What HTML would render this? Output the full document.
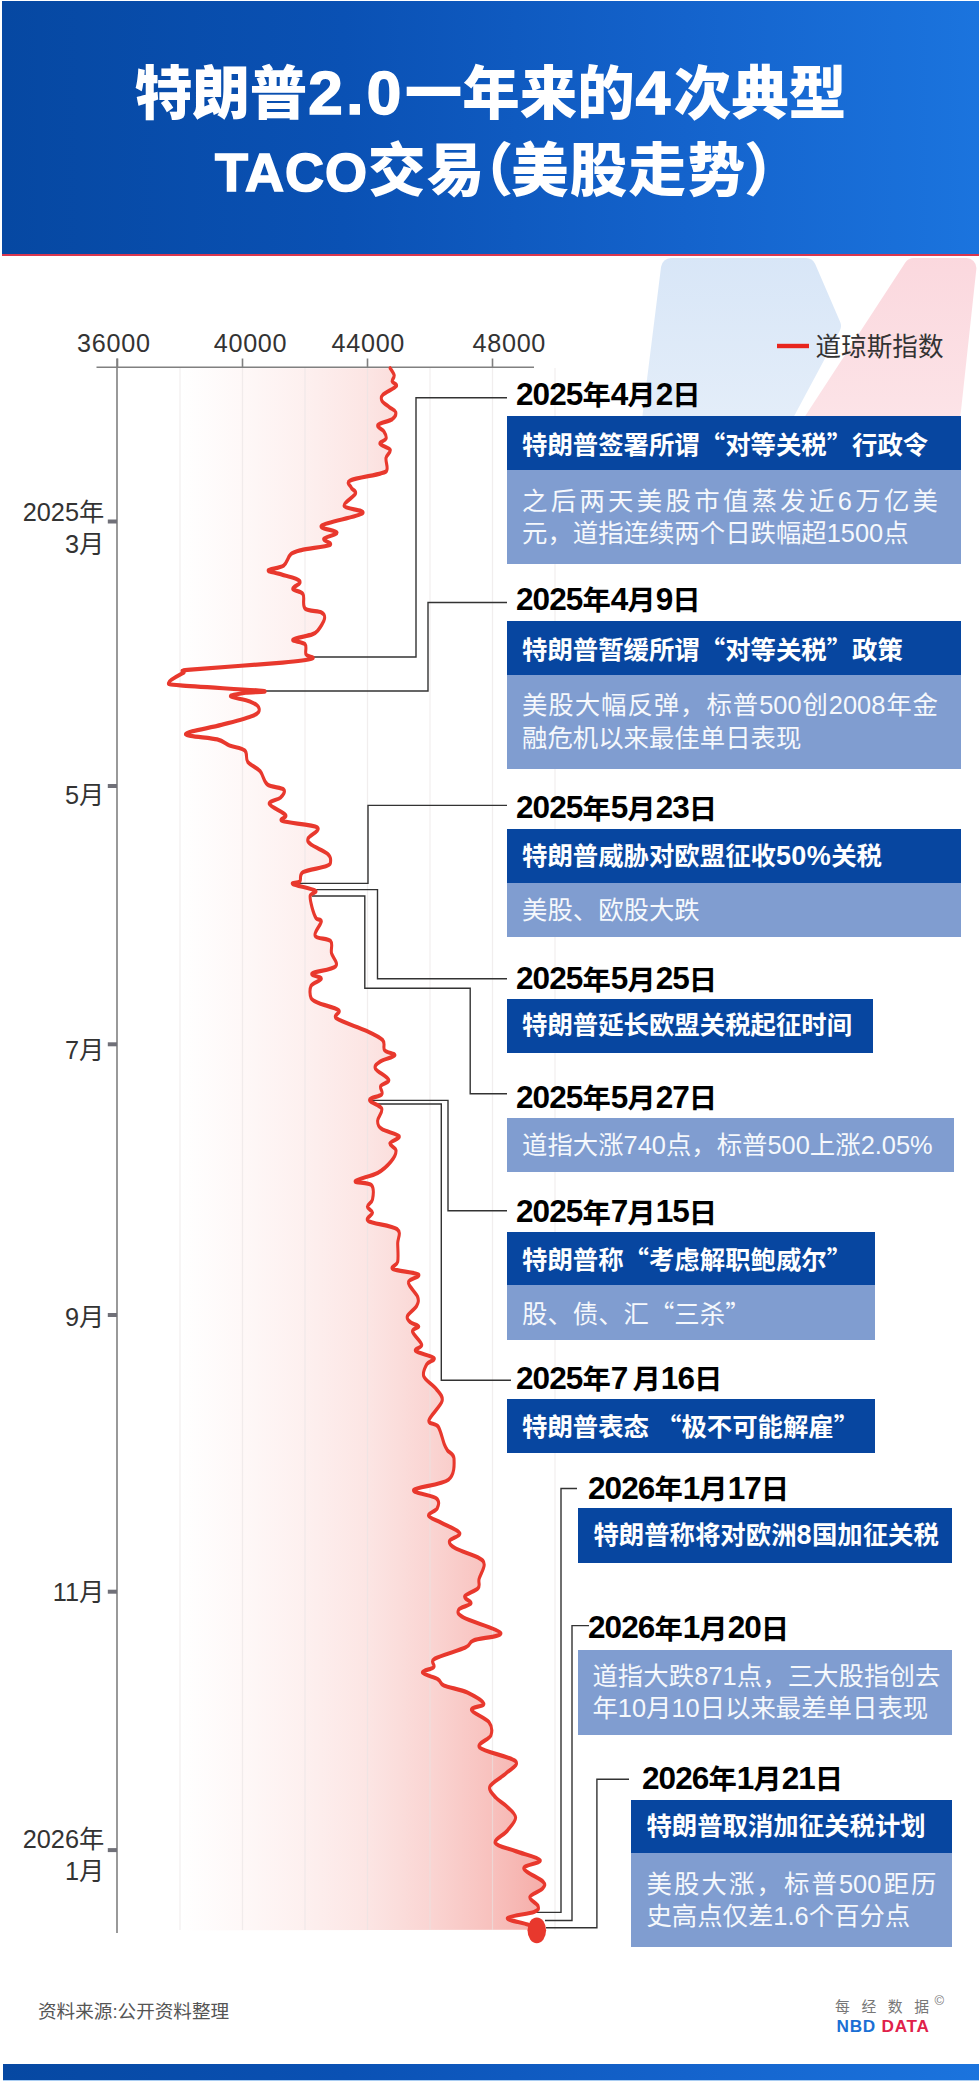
<!DOCTYPE html>
<html lang="zh-CN"><head><meta charset="utf-8"><title>特朗普2.0一年来的4次典型TACO交易</title>
<style>
html,body{margin:0;padding:0;background:#fff}
body{width:979px;height:2081px;position:relative;overflow:hidden;font-family:"Liberation Sans","Noto Sans CJK SC",sans-serif;color:#333}
.q{font-family:"Noto Sans CJK SC",sans-serif}
#hd{position:absolute;left:2px;top:1px;width:977px;height:253px;background:linear-gradient(90deg,#0648a2 0%,#0a51b4 35%,#1463cc 70%,#1b74de 100%);border-bottom:2px solid #d9374f}
#hd .t{position:absolute;left:0;width:100%;text-align:center;color:#fff;font-weight:900;font-size:57.5px;line-height:76px;white-space:nowrap}
#hd .l1{font-size:62px;letter-spacing:3.4px;line-height:0;-webkit-text-stroke:1.6px #fff;padding-left:1px}
#hd .l2{font-size:54px;letter-spacing:1px;line-height:0;-webkit-text-stroke:1.6px #fff;padding-left:1px}
#hd .pl{margin-left:-0.52em;margin-right:-0.06em}
#hd .pr{margin-right:-0.62em;margin-left:-0.04em}
#ft{position:absolute;left:3px;top:2064px;width:976px;height:16px;background:linear-gradient(90deg,#0648a2 0%,#0a51b4 35%,#1463cc 70%,#1b74de 100%)}
svg{position:absolute;left:0;top:0}
.xl{position:absolute;top:327px;width:100px;text-align:center;font-size:25.2px;letter-spacing:0.7px;line-height:32px;color:#333}
.yl{position:absolute;left:0;width:104.3px;text-align:right;font-size:25.3px;line-height:31.8px;color:#333}
.dt{position:absolute;font-weight:700;font-size:27.5px;line-height:36px;color:#000;white-space:nowrap;transform:scaleX(1.03);transform-origin:0 50%;margin-left:-2px}
.dt .n{font-size:30.6px;letter-spacing:-0.9px;line-height:0;position:relative;top:-0.3px}
.dt i{font-style:normal;font-size:18px}
.dk{position:absolute;background:#0746a0;color:#fff;font-weight:700;font-size:25.4px;white-space:nowrap}
.dk .n{font-size:27px;letter-spacing:0.4px;line-height:0}
.lt{position:absolute;background:#809dd0;color:#f5f8fc;font-size:25.4px}
.ln{height:32.3px;line-height:32.3px;white-space:nowrap}
.ln.j{text-align:justify;text-align-last:justify;white-space:normal}
#lg{position:absolute;left:815.5px;top:329.3px;font-size:25.6px;line-height:36px;color:#333;white-space:nowrap}
#src{position:absolute;left:38px;top:2000px;font-size:18.6px;line-height:24px;color:#555;white-space:nowrap}
#nbd1{position:absolute;left:835px;top:1997.2px;font-size:14.8px;line-height:20px;color:#777;letter-spacing:11.6px;white-space:nowrap}
#nbd2{position:absolute;left:836.5px;top:2014.6px;font-size:17.2px;letter-spacing:0.75px;line-height:22px;font-weight:700;white-space:nowrap}
#cp{position:absolute;left:934.5px;top:1993.2px;font-size:13px;line-height:16px;color:#777}
</style></head><body>
<svg width="979" height="2081" viewBox="0 0 979 2081">
<defs>
<linearGradient id="ga" gradientUnits="userSpaceOnUse" x1="180" y1="0" x2="550" y2="0"><stop offset="0" stop-color="#e8372c" stop-opacity="0"/><stop offset="0.165" stop-color="#e8372c" stop-opacity="0.035"/><stop offset="0.335" stop-color="#e8372c" stop-opacity="0.075"/><stop offset="0.508" stop-color="#e8372c" stop-opacity="0.13"/><stop offset="0.673" stop-color="#e8372c" stop-opacity="0.21"/><stop offset="0.843" stop-color="#e8372c" stop-opacity="0.31"/><stop offset="1" stop-color="#e8372c" stop-opacity="0.42"/></linearGradient>
<linearGradient id="gb" gradientUnits="userSpaceOnUse" x1="0" y1="256" x2="0" y2="520"><stop offset="0" stop-color="#d8e6f7"/><stop offset="0.6" stop-color="#e3edf9"/><stop offset="1" stop-color="#ffffff"/></linearGradient>
<linearGradient id="gp" gradientUnits="userSpaceOnUse" x1="0" y1="256" x2="0" y2="520"><stop offset="0" stop-color="#fbd8de"/><stop offset="0.6" stop-color="#fce3e7"/><stop offset="1" stop-color="#ffffff"/></linearGradient>
</defs>
<path d="M671 268 H806 L831 326 L727 520 H639.5 Z" fill="url(#gb)" stroke="url(#gb)" stroke-width="20" stroke-linejoin="round"/>
<path d="M913.7 268 H966.4 L939.1 520 H749.4 Z" fill="url(#gp)" stroke="url(#gp)" stroke-width="20" stroke-linejoin="round"/>
<path d="M390.2 368.2C390.9 369.4 393.9 373.1 394.2 375.3C394.5 377.5 391.8 379.7 392.2 381.5C392.6 383.3 397.8 383.9 396.3 386.1C394.8 388.3 385.4 392.2 383.0 394.7C380.6 397.2 381.0 398.8 382.0 400.9C383.0 402.9 386.8 405.1 389.1 407.0C391.4 408.9 395.2 410.1 395.7 412.1C396.2 414.1 395.2 417.1 392.2 419.2C389.2 421.3 379.3 422.9 377.9 425.0C376.5 427.1 382.6 429.2 384.0 431.5C385.4 433.8 386.7 436.6 386.0 438.7C385.3 440.8 379.3 441.9 380.0 443.8C380.7 445.7 389.2 447.5 390.2 449.9C391.2 452.3 386.5 454.8 386.0 458.0C385.5 461.2 387.8 466.7 387.0 469.3C386.2 471.9 387.1 471.5 381.0 473.4C374.9 475.3 355.2 478.1 350.3 480.5C345.4 482.9 350.5 485.5 351.3 487.7C352.1 489.9 356.6 490.8 355.4 493.8C354.2 496.9 343.0 502.8 344.2 506.0C345.4 509.2 366.4 510.0 362.6 513.2C358.9 516.5 326.0 522.3 321.7 525.5C317.4 528.7 336.6 530.4 337.0 532.6C337.4 534.8 325.0 536.8 323.8 538.8C322.6 540.8 333.6 543.0 329.9 544.9C326.1 546.8 307.8 548.4 301.3 550.0C294.8 551.6 293.6 551.7 290.7 554.3C287.8 556.9 287.3 562.9 283.6 565.5C279.9 568.1 269.2 568.8 268.3 570.2C267.4 571.6 273.9 572.3 278.5 573.7C283.1 575.1 292.3 577.3 295.9 578.8C299.5 580.3 300.4 581.2 299.9 582.9C299.4 584.6 292.3 587.1 292.8 589.0C293.3 590.9 301.0 590.9 303.0 594.1C305.0 597.3 301.9 605.3 305.0 608.4C308.1 611.5 318.1 610.8 321.4 612.5C324.6 614.2 325.0 615.8 324.5 618.7C324.0 621.6 320.4 627.3 318.3 629.9C316.2 632.5 316.4 632.8 312.2 634.4C307.9 636.0 294.0 638.1 292.8 639.7C291.6 641.3 302.8 641.8 305.0 644.2C307.2 646.7 304.8 652.0 306.0 654.4C307.2 656.8 316.1 657.1 312.2 658.5C308.3 659.9 302.9 660.7 282.6 662.6C262.3 664.5 207.1 668.0 190.6 669.7C174.1 671.4 187.1 670.8 183.5 672.8C179.9 674.8 169.7 679.9 169.2 682.0C168.7 684.1 164.9 684.0 180.4 685.5C195.9 687.0 251.2 689.6 262.1 690.8C273.0 692.0 251.1 691.9 245.8 692.8C240.5 693.7 229.8 694.9 230.5 696.3C231.2 697.7 245.1 699.4 249.9 701.4C254.7 703.4 258.6 706.1 259.1 708.5C259.6 710.9 259.3 713.0 253.0 715.7C246.7 718.4 232.6 721.9 221.3 724.9C210.1 727.9 186.2 731.6 185.5 734.0C184.8 736.4 209.9 737.5 217.2 739.4C224.5 741.3 224.9 743.6 229.5 745.5C234.1 747.4 241.8 747.9 244.8 750.6C247.9 753.3 245.2 758.5 247.8 761.9C250.4 765.3 256.9 767.4 260.1 771.1C263.4 774.9 263.4 781.3 267.3 784.4C271.2 787.5 281.4 787.3 283.6 789.5C285.8 791.7 282.9 795.2 280.5 797.6C278.1 800.0 268.4 800.9 269.3 803.8C270.2 806.7 283.4 812.1 285.6 815.0C287.8 817.9 277.3 819.1 282.6 821.1C287.9 823.1 313.1 824.4 317.3 827.3C321.6 830.2 309.1 835.6 308.1 838.5C307.1 841.4 308.0 842.1 311.2 844.6C314.4 847.1 324.3 851.1 327.5 853.8C330.7 856.5 330.8 859.0 330.6 861.0C330.4 863.0 331.1 864.2 326.5 866.1C321.9 868.0 307.4 869.7 303.0 872.2C298.6 874.8 301.6 879.4 299.9 881.4C298.2 883.4 290.2 882.5 292.8 884.0C295.4 885.5 312.4 888.6 315.3 890.6C318.2 892.6 310.7 892.8 310.2 895.7C309.7 898.6 311.2 904.2 312.2 908.0C313.2 911.8 314.7 916.1 316.2 918.4C317.7 920.6 321.5 918.6 321.3 921.5C321.1 924.4 313.7 932.6 315.2 935.8C316.7 939.0 327.8 938.0 330.5 940.9C333.2 943.8 330.6 948.9 331.5 953.1C332.4 957.4 338.8 963.0 335.6 966.4C332.4 969.8 314.5 971.5 312.1 973.5C309.7 975.5 321.5 976.7 321.3 978.7C321.1 980.8 312.8 982.6 311.1 985.8C309.4 989.0 309.8 995.2 311.1 998.1C312.5 1001.0 314.6 1001.2 319.2 1003.2C323.8 1005.2 335.8 1007.8 338.7 1010.3C341.6 1012.8 332.0 1015.1 336.6 1018.5C341.2 1021.9 358.5 1027.1 366.2 1030.7C373.9 1034.3 379.5 1036.7 382.6 1039.9C385.7 1043.2 382.6 1047.6 384.6 1050.2C386.6 1052.8 395.5 1053.4 394.8 1055.3C394.1 1057.2 383.7 1059.2 380.5 1061.4C377.3 1063.6 374.0 1065.4 375.4 1068.5C376.8 1071.6 387.8 1076.9 388.7 1079.8C389.6 1082.7 381.9 1083.7 380.7 1086.1C379.5 1088.5 383.6 1092.0 381.7 1094.3C379.8 1096.6 369.5 1097.6 369.5 1100.0C369.5 1102.4 380.3 1105.1 381.7 1108.6C383.1 1112.1 377.6 1117.5 377.6 1120.9C377.6 1124.3 378.1 1126.5 381.7 1129.0C385.3 1131.5 397.7 1133.8 399.1 1136.2C400.5 1138.6 390.4 1140.9 389.9 1143.3C389.4 1145.7 395.8 1147.4 396.0 1150.5C396.2 1153.6 394.0 1158.0 390.9 1161.7C387.8 1165.5 383.6 1169.8 377.6 1173.0C371.7 1176.2 356.2 1179.1 355.2 1181.1C354.2 1183.1 368.6 1182.1 371.5 1185.2C374.4 1188.3 373.2 1195.9 372.5 1199.5C371.8 1203.1 367.4 1204.5 367.4 1206.7C367.4 1208.9 372.3 1210.4 372.5 1212.8C372.7 1215.2 364.3 1218.3 368.4 1221.0C372.5 1223.7 392.1 1225.4 397.0 1229.1C401.9 1232.8 397.6 1238.0 397.7 1243.4C397.8 1248.9 398.5 1257.5 397.7 1261.8C396.9 1266.1 389.5 1266.9 393.0 1269.0C396.5 1271.1 415.9 1272.3 418.5 1274.6C421.1 1276.8 408.5 1278.8 408.4 1282.5C408.2 1286.2 416.2 1292.9 417.6 1296.8C419.0 1300.7 418.3 1302.8 416.6 1306.0C414.9 1309.2 408.4 1313.5 407.4 1316.2C406.4 1318.9 408.6 1320.6 410.5 1322.3C412.4 1324.0 418.4 1324.9 418.7 1326.4C419.0 1327.9 412.0 1328.4 412.5 1331.5C413.0 1334.6 421.2 1341.6 421.7 1344.8C422.2 1348.0 413.6 1348.7 415.6 1350.9C417.7 1353.1 432.1 1355.9 434.0 1358.1C435.9 1360.3 428.5 1361.2 426.8 1364.2C425.1 1367.2 422.3 1372.3 423.8 1376.4C425.3 1380.5 432.9 1384.6 436.0 1388.7C439.1 1392.8 443.3 1395.7 442.1 1401.0C440.9 1406.3 429.6 1416.2 428.9 1420.4C428.2 1424.7 435.6 1422.6 438.1 1426.5C440.7 1430.4 442.6 1440.0 444.2 1443.9C445.8 1447.9 445.8 1447.8 447.4 1450.2C449.0 1452.6 453.8 1453.5 454.0 1458.4C454.2 1463.3 455.1 1474.5 448.4 1479.8C441.7 1485.1 415.7 1486.9 413.7 1490.0C411.7 1493.1 432.3 1495.1 436.2 1498.2C440.1 1501.3 438.5 1505.5 437.2 1508.4C435.9 1511.3 427.9 1513.2 428.6 1515.6C429.3 1518.0 436.1 1519.8 441.3 1522.7C446.5 1525.6 458.3 1529.9 459.7 1533.0C461.1 1536.1 450.2 1538.5 449.5 1541.1C448.8 1543.6 450.8 1545.6 455.6 1548.3C460.4 1551.0 473.3 1554.8 478.1 1557.5C482.9 1560.2 484.0 1561.0 484.2 1564.6C484.4 1568.2 480.1 1575.0 479.1 1578.9C478.1 1582.8 480.5 1585.2 478.1 1588.1C475.7 1591.0 466.0 1593.8 464.8 1596.3C463.6 1598.8 471.9 1601.2 470.9 1603.4C469.9 1605.6 459.9 1607.2 458.7 1609.6C457.5 1612.0 456.8 1613.8 463.8 1617.7C470.8 1621.6 499.2 1629.2 500.8 1633.0C502.4 1636.8 479.4 1638.0 473.5 1640.4C467.6 1642.8 471.9 1644.5 465.4 1647.6C458.9 1650.7 440.0 1655.6 434.7 1658.8C429.4 1662.0 435.7 1664.7 433.7 1667.0C431.7 1669.3 421.8 1670.7 422.5 1672.7C423.2 1674.7 434.2 1677.1 437.8 1679.2C441.4 1681.3 439.0 1683.2 443.9 1685.4C448.8 1687.6 460.8 1689.4 467.4 1692.5C474.0 1695.6 483.1 1700.9 483.8 1703.8C484.5 1706.7 470.6 1706.9 471.5 1709.9C472.4 1713.0 485.7 1717.8 488.9 1722.1C492.1 1726.3 492.4 1731.1 490.9 1735.4C489.4 1739.7 475.6 1743.4 479.7 1747.7C483.8 1752.0 511.0 1756.8 515.4 1761.0C519.8 1765.2 510.4 1769.0 506.2 1773.2C501.9 1777.5 491.6 1782.4 489.9 1786.5C488.2 1790.6 493.2 1794.4 496.0 1797.7C498.8 1801.0 503.1 1802.8 506.4 1806.1C509.7 1809.4 515.4 1813.3 515.6 1817.4C515.8 1821.5 510.8 1826.3 507.4 1830.6C504.0 1834.8 493.8 1839.5 495.2 1842.9C496.6 1846.3 508.1 1848.2 515.6 1851.1C523.1 1854.0 538.7 1857.4 540.1 1860.3C541.5 1863.2 523.3 1864.8 523.8 1868.4C524.3 1872.0 540.2 1878.3 543.2 1881.7C546.2 1885.1 544.3 1886.4 542.1 1888.9C539.9 1891.5 530.6 1894.1 529.9 1897.0C529.2 1899.9 537.4 1903.7 538.1 1906.2C538.8 1908.7 539.1 1910.0 534.0 1912.0C528.9 1914.0 508.4 1916.0 507.4 1918.1C506.4 1920.2 523.0 1922.7 527.8 1924.6C532.6 1926.5 534.6 1928.8 536.0 1929.7L180.0 1930.5L180.0 368.2 Z" fill="url(#ga)"/>
<g stroke="#e9e4e4" stroke-width="1.2" fill="none" opacity="0.6"><line x1="180.0" y1="368" x2="180.0" y2="1930" /><line x1="242.5" y1="368" x2="242.5" y2="1930" /><line x1="305.0" y1="368" x2="305.0" y2="1930" /><line x1="367.5" y1="368" x2="367.5" y2="1930" /><line x1="430.0" y1="368" x2="430.0" y2="1930" /><line x1="492.5" y1="368" x2="492.5" y2="1930" /><line x1="555.0" y1="368" x2="555.0" y2="1930" /></g>
<g stroke="#808080" stroke-width="1.6" fill="none"><line x1="96.5" y1="367.3" x2="534" y2="367.3"/><line x1="117" y1="358.5" x2="117" y2="1933"/><line x1="117.5" y1="358.5" x2="117.5" y2="367.5"/><line x1="242.5" y1="358.5" x2="242.5" y2="367.5"/><line x1="367.5" y1="358.5" x2="367.5" y2="367.5"/><line x1="492.5" y1="358.5" x2="492.5" y2="367.5"/></g>
<g fill="#707078"><rect x="107.8" y="519.5" width="9.2" height="4"/><rect x="107.8" y="784.0" width="9.2" height="4"/><rect x="107.8" y="1042.3" width="9.2" height="4"/><rect x="107.8" y="1313.0" width="9.2" height="4"/><rect x="107.8" y="1589.7" width="9.2" height="4"/><rect x="107.8" y="1848.1" width="9.2" height="4"/></g>
<g stroke="#333" stroke-width="1.4" fill="none"><polyline points="312.0,657.0 416.0,657.0 416.0,397.7 507.0,397.7"/><polyline points="262.0,691.0 428.0,691.0 428.0,602.5 507.0,602.5"/><polyline points="295.0,883.4 368.0,883.4 368.0,805.4 507.0,805.4"/><polyline points="315.0,889.6 377.5,889.6 377.5,978.7 507.0,978.7"/><polyline points="312.0,896.0 364.8,896.0 364.8,988.3 470.2,988.3 470.2,1093.7 507.0,1093.7"/><polyline points="370.0,1100.4 448.0,1100.4 448.0,1210.7 507.0,1210.7"/><polyline points="374.0,1104.0 441.3,1104.0 441.3,1380.3 511.0,1380.3"/><polyline points="536.0,1912.4 561.0,1912.4 561.0,1488.5 577.0,1488.5"/><polyline points="545.0,1920.5 572.0,1920.5 572.0,1625.6 589.0,1625.6"/><polyline points="546.0,1927.7 596.9,1927.7 596.9,1779.3 629.0,1779.3"/></g>
<g transform="scale(1,1.38)"><path d="M390.2 266.8C390.9 267.7 393.9 270.4 394.2 272.0C394.5 273.6 391.8 275.1 392.2 276.4C392.6 277.8 397.8 278.2 396.3 279.8C394.8 281.4 385.4 284.2 383.0 286.0C380.6 287.8 381.0 289.0 382.0 290.5C383.0 292.0 386.8 293.6 389.1 294.9C391.4 296.3 395.2 297.1 395.7 298.6C396.2 300.1 395.2 302.2 392.2 303.8C389.2 305.3 379.3 306.5 377.9 308.0C376.5 309.5 382.6 311.0 384.0 312.7C385.4 314.3 386.7 316.4 386.0 317.9C385.3 319.4 379.3 320.2 380.0 321.6C380.7 322.9 389.2 324.3 390.2 326.0C391.2 327.7 386.5 329.5 386.0 331.9C385.5 334.2 387.8 338.2 387.0 340.1C386.2 341.9 387.1 341.7 381.0 343.0C374.9 344.4 355.2 346.5 350.3 348.2C345.4 349.9 350.5 351.8 351.3 353.4C352.1 355.0 356.6 355.6 355.4 357.8C354.2 360.0 343.0 364.3 344.2 366.7C345.4 369.0 366.4 369.5 362.6 371.9C358.9 374.2 326.0 378.5 321.7 380.8C317.4 383.1 336.6 384.3 337.0 385.9C337.4 387.5 325.0 388.9 323.8 390.4C322.6 391.9 333.6 393.5 329.9 394.9C326.1 396.2 307.8 397.4 301.3 398.6C294.8 399.7 293.6 399.8 290.7 401.7C287.8 403.5 287.3 407.9 283.6 409.8C279.9 411.7 269.2 412.2 268.3 413.2C267.4 414.2 273.9 414.7 278.5 415.7C283.1 416.8 292.3 418.3 295.9 419.4C299.5 420.5 300.4 421.2 299.9 422.4C299.4 423.6 292.3 425.5 292.8 426.8C293.3 428.2 301.0 428.2 303.0 430.5C305.0 432.9 301.9 438.6 305.0 440.9C308.1 443.1 318.1 442.6 321.4 443.8C324.6 445.1 325.0 446.2 324.5 448.3C324.0 450.4 320.4 454.6 318.3 456.4C316.2 458.3 316.4 458.5 312.2 459.7C307.9 460.9 294.0 462.4 292.8 463.6C291.6 464.7 302.8 465.0 305.0 466.8C307.2 468.6 304.8 472.5 306.0 474.2C307.2 475.9 316.1 476.2 312.2 477.2C308.3 478.2 302.9 478.8 282.6 480.1C262.3 481.5 207.1 484.1 190.6 485.3C174.1 486.5 187.1 486.1 183.5 487.5C179.9 489.0 169.7 492.7 169.2 494.2C168.7 495.7 164.9 495.7 180.4 496.7C195.9 497.8 251.2 499.7 262.1 500.6C273.0 501.5 251.1 501.4 245.8 502.0C240.5 502.7 229.8 503.5 230.5 504.6C231.2 505.6 245.1 506.8 249.9 508.3C254.7 509.7 258.6 511.7 259.1 513.4C259.6 515.1 259.3 516.6 253.0 518.6C246.7 520.6 232.6 523.1 221.3 525.3C210.1 527.5 186.2 530.1 185.5 531.9C184.8 533.6 209.9 534.4 217.2 535.8C224.5 537.2 224.9 538.9 229.5 540.2C234.1 541.6 241.8 541.9 244.8 543.9C247.9 545.9 245.2 549.6 247.8 552.1C250.4 554.6 256.9 556.1 260.1 558.8C263.4 561.5 263.4 566.2 267.3 568.4C271.2 570.6 281.4 570.5 283.6 572.1C285.8 573.7 282.9 576.2 280.5 578.0C278.1 579.7 268.4 580.4 269.3 582.5C270.2 584.6 283.4 588.5 285.6 590.6C287.8 592.7 277.3 593.5 282.6 595.0C287.9 596.5 313.1 597.4 317.3 599.5C321.6 601.6 309.1 605.5 308.1 607.6C307.1 609.7 308.0 610.2 311.2 612.0C314.4 613.9 324.3 616.7 327.5 618.7C330.7 620.7 330.8 622.4 330.6 623.9C330.4 625.4 331.1 626.3 326.5 627.6C321.9 629.0 307.4 630.2 303.0 632.0C298.6 633.9 301.6 637.3 299.9 638.7C298.2 640.1 290.2 639.5 292.8 640.6C295.4 641.7 312.4 643.9 315.3 645.4C318.2 646.8 310.7 647.0 310.2 649.1C309.7 651.2 311.2 655.2 312.2 658.0C313.2 660.7 314.7 663.9 316.2 665.5C317.7 667.1 321.5 665.7 321.3 667.8C321.1 669.9 313.7 675.8 315.2 678.1C316.7 680.5 327.8 679.7 330.5 681.8C333.2 683.9 330.6 687.6 331.5 690.7C332.4 693.7 338.8 697.8 335.6 700.3C332.4 702.8 314.5 703.9 312.1 705.4C309.7 706.9 321.5 707.7 321.3 709.2C321.1 710.7 312.8 712.0 311.1 714.3C309.4 716.7 309.8 721.2 311.1 723.3C312.5 725.4 314.6 725.5 319.2 727.0C323.8 728.4 335.8 730.3 338.7 732.1C341.6 733.9 332.0 735.6 336.6 738.0C341.2 740.5 358.5 744.3 366.2 746.9C373.9 749.5 379.5 751.2 382.6 753.6C385.7 755.9 382.6 759.2 384.6 761.0C386.6 762.9 395.5 763.4 394.8 764.7C394.1 766.1 383.7 767.5 380.5 769.1C377.3 770.7 374.0 772.1 375.4 774.3C376.8 776.5 387.8 780.3 388.7 782.5C389.6 784.6 381.9 785.3 380.7 787.0C379.5 788.8 383.6 791.3 381.7 793.0C379.8 794.6 369.5 795.4 369.5 797.1C369.5 798.8 380.3 800.8 381.7 803.3C383.1 805.9 377.6 809.8 377.6 812.2C377.6 814.7 378.1 816.3 381.7 818.1C385.3 820.0 397.7 821.6 399.1 823.3C400.5 825.1 390.4 826.8 389.9 828.5C389.4 830.2 395.8 831.5 396.0 833.7C396.2 835.9 394.0 839.1 390.9 841.8C387.8 844.5 383.6 847.7 377.6 850.0C371.7 852.3 356.2 854.4 355.2 855.9C354.2 857.3 368.6 856.6 371.5 858.8C374.4 861.1 373.2 866.6 372.5 869.2C371.8 871.8 367.4 872.8 367.4 874.4C367.4 876.0 372.3 877.1 372.5 878.8C372.7 880.6 364.3 882.8 368.4 884.8C372.5 886.8 392.1 887.9 397.0 890.7C401.9 893.4 397.6 897.1 397.7 901.0C397.8 905.0 398.5 911.3 397.7 914.3C396.9 917.4 389.5 918.0 393.0 919.6C396.5 921.1 415.9 922.0 418.5 923.6C421.1 925.3 408.5 926.7 408.4 929.3C408.2 932.0 416.2 936.9 417.6 939.7C419.0 942.5 418.3 944.0 416.6 946.4C414.9 948.7 408.4 951.8 407.4 953.8C406.4 955.7 408.6 957.0 410.5 958.2C412.4 959.4 418.4 960.0 418.7 961.2C419.0 962.3 412.0 962.6 412.5 964.9C413.0 967.1 421.2 972.1 421.7 974.5C422.2 976.8 413.6 977.3 415.6 978.9C417.7 980.5 432.1 982.5 434.0 984.1C435.9 985.7 428.5 986.3 426.8 988.6C425.1 990.8 422.3 994.4 423.8 997.4C425.3 1000.4 432.9 1003.3 436.0 1006.3C439.1 1009.3 443.3 1011.4 442.1 1015.2C440.9 1019.0 429.6 1026.2 428.9 1029.3C428.2 1032.4 435.6 1030.9 438.1 1033.7C440.7 1036.5 442.6 1043.4 444.2 1046.3C445.8 1049.2 445.8 1049.1 447.4 1050.9C449.0 1052.6 453.8 1053.2 454.0 1056.8C454.2 1060.4 455.1 1068.5 448.4 1072.3C441.7 1076.1 415.7 1077.5 413.7 1079.7C411.7 1081.9 432.3 1083.4 436.2 1085.7C440.1 1087.9 438.5 1090.9 437.2 1093.0C435.9 1095.1 427.9 1096.5 428.6 1098.3C429.3 1100.0 436.1 1101.3 441.3 1103.4C446.5 1105.5 458.3 1108.6 459.7 1110.9C461.1 1113.1 450.2 1114.9 449.5 1116.7C448.8 1118.6 450.8 1120.0 455.6 1122.0C460.4 1123.9 473.3 1126.7 478.1 1128.6C482.9 1130.6 484.0 1131.2 484.2 1133.8C484.4 1136.4 480.1 1141.3 479.1 1144.1C478.1 1147.0 480.5 1148.7 478.1 1150.8C475.7 1152.9 466.0 1154.9 464.8 1156.7C463.6 1158.6 471.9 1160.3 470.9 1161.9C469.9 1163.5 459.9 1164.6 458.7 1166.4C457.5 1168.1 456.8 1169.4 463.8 1172.2C470.8 1175.1 499.2 1180.6 500.8 1183.3C502.4 1186.1 479.4 1186.9 473.5 1188.7C467.6 1190.5 471.9 1191.7 465.4 1193.9C458.9 1196.1 440.0 1199.7 434.7 1202.0C429.4 1204.4 435.7 1206.3 433.7 1208.0C431.7 1209.6 421.8 1210.6 422.5 1212.1C423.2 1213.6 434.2 1215.3 437.8 1216.8C441.4 1218.3 439.0 1219.7 443.9 1221.3C448.8 1222.9 460.8 1224.2 467.4 1226.4C474.0 1228.7 483.1 1232.5 483.8 1234.6C484.5 1236.7 470.6 1236.8 471.5 1239.1C472.4 1241.3 485.7 1244.8 488.9 1247.9C492.1 1251.0 492.4 1254.4 490.9 1257.5C489.4 1260.6 475.6 1263.4 479.7 1266.4C483.8 1269.5 511.0 1273.0 515.4 1276.1C519.8 1279.2 510.4 1281.8 506.2 1284.9C501.9 1288.0 491.6 1291.6 489.9 1294.6C488.2 1297.5 493.2 1300.3 496.0 1302.7C498.8 1305.0 503.1 1306.4 506.4 1308.8C509.7 1311.1 515.4 1314.0 515.6 1317.0C515.8 1319.9 510.8 1323.4 507.4 1326.5C504.0 1329.6 493.8 1333.0 495.2 1335.4C496.6 1337.9 508.1 1339.3 515.6 1341.4C523.1 1343.5 538.7 1346.0 540.1 1348.0C541.5 1350.1 523.3 1351.3 523.8 1353.9C524.3 1356.5 540.2 1361.1 543.2 1363.6C546.2 1366.0 544.3 1366.9 542.1 1368.8C539.9 1370.6 530.6 1372.5 529.9 1374.6C529.2 1376.7 537.4 1379.5 538.1 1381.3C538.8 1383.1 539.1 1384.1 534.0 1385.5C528.9 1386.9 508.4 1388.4 507.4 1389.9C506.4 1391.4 523.0 1393.2 527.8 1394.6C532.6 1396.0 534.6 1397.7 536.0 1398.3" fill="none" stroke="#e8382d" stroke-width="3.05" stroke-linejoin="round" stroke-linecap="round"/>
<circle cx="536.8" cy="1398.77" r="9.3" fill="#e8382d"/></g>
<rect x="777" y="343.8" width="32" height="4.4" fill="#e8251d"/>
</svg>
<div id="hd"><div class="t" style="top:55px">特朗普<span class="l1">2.0</span>一年来的<span class="l1">4</span>次典型</div><div class="t" style="top:132px;letter-spacing:1.3px"><span class="l2">TACO</span>交易<span class="pl">（</span>美股走势<span class="pr">）</span></div></div>
<div class="xl" style="left:63.9px">36000</div><div class="xl" style="left:200.5px">40000</div><div class="xl" style="left:318.3px">44000</div><div class="xl" style="left:459.3px">48000</div>
<div class="yl" style="top:496.9px">2025年<br>3月</div><div class="yl" style="top:779.7px">5月</div><div class="yl" style="top:1034.8px">7月</div><div class="yl" style="top:1301.6px">9月</div><div class="yl" style="top:1577.3px">11月</div><div class="yl" style="top:1823.8px">2026年<br>1月</div>
<div id="lg">道琼斯指数</div>
<div class="dt" style="left:517.5px;top:378.0px"><span class="n">2025</span>年<span class="n">4</span>月<span class="n">2</span>日</div><div class="dk" style="left:507.0px;top:416.0px;width:438.8px;height:54.0px;line-height:54.0px;padding-left:15.0px">特朗普签署所谓<span class="q">“</span>对等关税<span class="q">”</span>行政令</div><div class="lt" style="left:507.0px;top:470.0px;width:453.8px;height:94.0px;"><div style="position:absolute;left:15.0px;top:14.7px;width:416.0px"><div class="ln j">之后两天美股市值蒸发近6万亿美</div><div class="ln">元，道指连续两个日跌幅超1500点</div></div></div><div class="dt" style="left:517.5px;top:582.9px"><span class="n">2025</span>年<span class="n">4</span>月<span class="n">9</span>日</div><div class="dk" style="left:507.0px;top:620.7px;width:438.8px;height:54.0px;line-height:54.0px;padding-left:15.0px">特朗普暂缓所谓<span class="q">“</span>对等关税<span class="q">”</span>政策</div><div class="lt" style="left:507.0px;top:674.7px;width:453.8px;height:94.0px;"><div style="position:absolute;left:15.0px;top:14.7px;width:416.0px"><div class="ln j">美股大幅反弹，标普500创2008年金</div><div class="ln">融危机以来最佳单日表现</div></div></div><div class="dt" style="left:517.5px;top:791.5px"><span class="n">2025</span>年<span class="n">5</span>月<span class="n">23</span>日</div><div class="dk" style="left:507.0px;top:829.0px;width:438.8px;height:54.0px;line-height:54.0px;padding-left:15.0px">特朗普威胁对欧盟征收<span class="n">50%</span>关税</div><div class="lt" style="left:507.0px;top:883.0px;width:453.8px;height:53.5px;"><div style="position:absolute;left:15.0px;top:10.6px;width:416.0px"><div class="ln">美股、欧股大跌</div></div></div><div class="dt" style="left:517.5px;top:962.5px"><span class="n">2025</span>年<span class="n">5</span>月<span class="n">25</span>日</div><div class="dk" style="left:507.0px;top:999.3px;width:350.7px;height:53.5px;line-height:53.5px;padding-left:15.0px">特朗普延长欧盟关税起征时间</div><div class="dt" style="left:517.5px;top:1080.8px"><span class="n">2025</span>年<span class="n">5</span>月<span class="n">27</span>日</div><div class="lt" style="left:507.0px;top:1118.0px;width:447.0px;height:53.5px;"><div style="position:absolute;left:15.0px;top:10.6px;width:416.0px"><div class="ln">道指大涨740点，标普500上涨2.05%</div></div></div><div class="dt" style="left:517.5px;top:1195.5px"><span class="n">2025</span>年<span class="n">7</span>月<span class="n">15</span>日</div><div class="dk" style="left:507.0px;top:1231.9px;width:352.5px;height:53.5px;line-height:53.5px;padding-left:15.0px">特朗普称<span class="q">“</span>考虑解职鲍威尔<span class="q">”</span></div><div class="lt" style="left:507.0px;top:1285.4px;width:367.5px;height:54.2px;"><div style="position:absolute;left:15.0px;top:11.0px;width:416.0px"><div class="ln">股、债、汇<span class="q">“</span>三杀<span class="q">”</span></div></div></div><div class="dt" style="left:517.5px;top:1362.1px"><span class="n">2025</span>年<span class="n">7</span><i> </i>月<span class="n">16</span>日</div><div class="dk" style="left:507.0px;top:1399.2px;width:352.5px;height:53.4px;line-height:53.4px;padding-left:15.0px">特朗普表态 <span class="q">“</span>极不可能解雇<span class="q">”</span></div><div class="dt" style="left:590.0px;top:1472.0px"><span class="n">2026</span>年<span class="n">1</span>月<span class="n">17</span>日</div><div class="dk" style="left:578.4px;top:1508.0px;width:358.6px;height:54.6px;line-height:54.6px;padding-left:15.0px">特朗普称将对欧洲<span class="n">8</span>国加征关税</div><div class="dt" style="left:590.0px;top:1611.7px"><span class="n">2026</span>年<span class="n">1</span>月<span class="n">20</span>日</div><div class="lt" style="left:578.4px;top:1650.0px;width:373.6px;height:85.0px;"><div style="position:absolute;left:14.0px;top:10.2px;width:348.0px"><div class="ln j">道指大跌871点，三大股指创去</div><div class="ln">年10月10日以来最差单日表现</div></div></div><div class="dt" style="left:643.6px;top:1762.0px"><span class="n">2026</span>年<span class="n">1</span>月<span class="n">21</span>日</div><div class="dk" style="left:631.4px;top:1799.8px;width:305.6px;height:53.5px;line-height:53.5px;padding-left:15.0px">特朗普取消加征关税计划</div><div class="lt" style="left:631.4px;top:1853.0px;width:320.6px;height:94.0px;"><div style="position:absolute;left:15.0px;top:14.7px;width:290.0px"><div class="ln j">美股大涨，标普500距历</div><div class="ln">史高点仅差1.6个百分点</div></div></div>
<div id="src">资料来源:公开资料整理</div>
<div id="nbd1">每经数据</div><div id="cp">©</div>
<div id="nbd2"><span style="color:#1a6fd4">NBD</span> <span style="color:#e0214a">DATA</span></div>
<div id="ft"></div><div style="position:absolute;left:3px;top:2080px;width:976px;height:1px;background:#a9cdf3"></div>
</body></html>
